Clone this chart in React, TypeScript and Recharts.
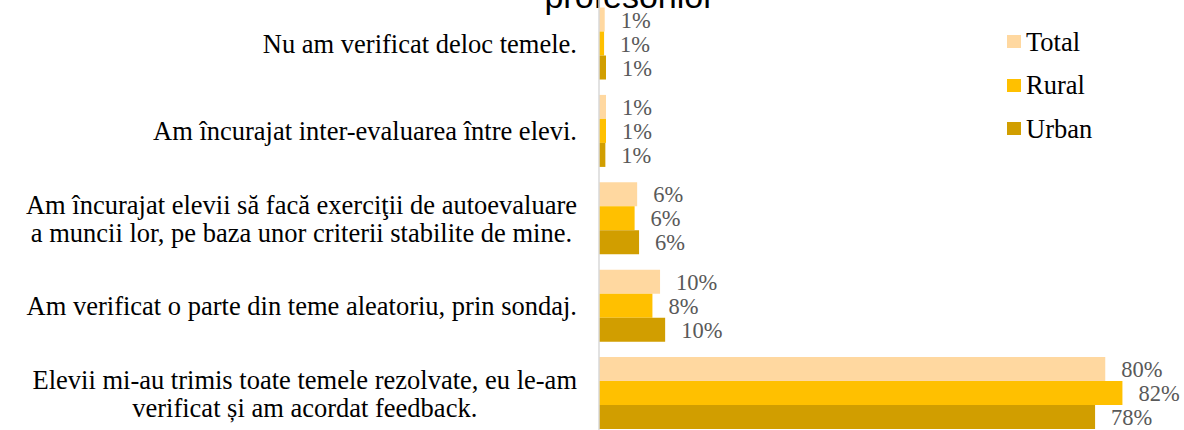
import React from "react";
import { BarChart, Bar, XAxis, YAxis, LabelList, Legend, Customized } from "recharts";

const categories: string[] = [
  "Nu am verificat deloc temele.",
  "Am încurajat inter-evaluarea între elevi.",
  "Am încurajat elevii să facă exerciţii de autoevaluare\na muncii lor, pe baza unor criterii stabilite de mine.",
  "Am verificat o parte din teme aleatoriu, prin sondaj.",
  "Elevii mi-au trimis toate temele rezolvate, eu le-am\nverificat și am acordat feedback.",
];
const totalValues: number[] = [0.9, 1.1, 6.0, 9.6, 79.6];
const ruralValues: number[] = [0.8, 1.1, 5.6, 8.4, 82.3];
const urbanValues: number[] = [1.1, 1.0, 6.3, 10.4, 78.0];
const seriesNames: string[] = ["Total", "Rural", "Urban"];
const seriesKeys: string[] = ["total", "rural", "urban"];
const seriesColors: string[] = ["#FFD8A0", "#FFC000", "#D19E00"];
const titleText = "profesorilor";

const data = categories.map((name, i) => ({
  name,
  total: totalValues[i],
  rural: ruralValues[i],
  urban: urbanValues[i],
}));

const SERIF = "'Liberation Serif', 'Times New Roman', serif";
const CAT_FONT = 26.5;
const LINE_H = 28;

let measureCtx: CanvasRenderingContext2D | null = null;
function measure(text: string): number {
  if (!measureCtx) {
    const c = document.createElement("canvas");
    measureCtx = c.getContext("2d");
  }
  if (!measureCtx) return text.length * CAT_FONT * 0.45;
  measureCtx.font = `${CAT_FONT}px 'Liberation Serif'`;
  return measureCtx.measureText(text).width;
}

const CategoryTick = (props: any) => {
  const { x, y, payload } = props;
  const lines: string[] = String(payload.value).split("\n");
  const right = x - 14;
  const n = lines.length;
  if (n === 1) {
    return (
      <text x={right} y={y} dy="0.35em" textAnchor="end" fontFamily={SERIF} fontSize={CAT_FONT} fill="#000">
        {lines[0]}
      </text>
    );
  }
  const maxW = Math.max(...lines.map(measure));
  const cx = right - maxW / 2;
  return (
    <text textAnchor="middle" fontFamily={SERIF} fontSize={CAT_FONT} fill="#000">
      {lines.map((l, i) => (
        <tspan key={i} x={cx} y={y + (i - (n - 1) / 2) * LINE_H} dy="0.35em">
          {l}
        </tspan>
      ))}
    </text>
  );
};

const renderLegend = () => (
  <div style={{ display: "flex", flexDirection: "column" }}>
    {seriesNames.map((s, i) => (
      <div key={s} style={{ height: 43.5, display: "flex", alignItems: "center" }}>
        <div style={{ width: 14, height: 13, background: seriesColors[i], marginRight: 5 }} />
        <span style={{ fontFamily: SERIF, fontSize: CAT_FONT, lineHeight: 1, color: "#000" }}>{s}</span>
      </div>
    ))}
  </div>
);

const Title = () => (
  <text x={629.5} y={8} textAnchor="middle" fontFamily="'Liberation Sans', Arial, sans-serif" fontSize={34} fill="#000">
    {titleText}
  </text>
);

const fmt = (v: any) => `${Math.round(Number(v))}%`;

export default function App() {
  return (
    <div style={{ position: "absolute", left: 0, top: 0, width: 1184, height: 430, overflow: "hidden", background: "#fff" }}>
      <BarChart
        width={1184}
        height={437}
        data={data}
        layout="vertical"
        margin={{ top: 0, right: 12.6, bottom: 0, left: 0 }}
        barCategoryGap="8.6%"
        barGap={0}
      >
        <XAxis type="number" domain={[0, 90]} hide />
        <YAxis
          type="category"
          dataKey="name"
          width={599}
          tick={<CategoryTick />}
          tickLine={false}
          interval={0}
          axisLine={{ stroke: "#d9d9d9", strokeWidth: 1.5 }}
        />
        {seriesKeys.map((k, i) => (
          <Bar key={k} dataKey={k} name={seriesNames[i]} fill={seriesColors[i]} isAnimationActive={false}>
            <LabelList
              dataKey={k}
              position="right"
              offset={16}
              formatter={fmt}
              fill="#595959"
              fontSize={22.5}
              fontFamily={SERIF}
            />
          </Bar>
        ))}
        <Legend
          content={renderLegend}
          layout="horizontal"
          verticalAlign="middle"
          align="center"
          wrapperStyle={{ position: "absolute", left: 1007, top: 20, width: 150 }}
        />
        <Customized component={Title} />
      </BarChart>
    </div>
  );
}
